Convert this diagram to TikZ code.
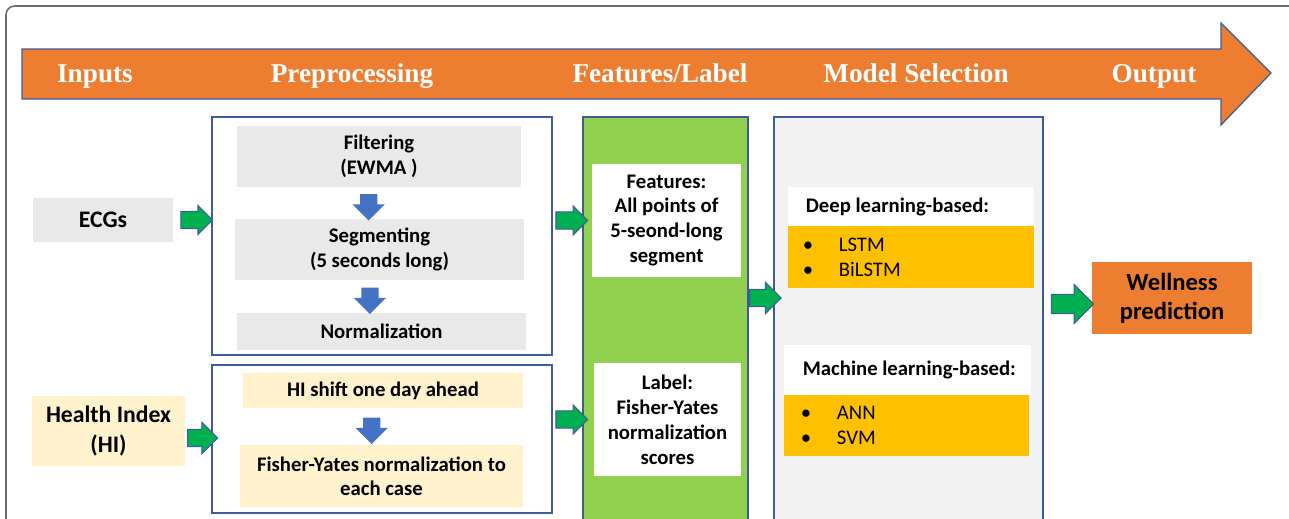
\documentclass[tikz,border=0pt]{standalone}
\usepackage{fontspec}
\setmainfont{Carlito}
\newfontfamily\headfont{Liberation Serif}
\usetikzlibrary{calc,fit,positioning,shapes.arrows}
\definecolor{bannerorange}{HTML}{ED7D31}
\definecolor{edgeblue}{HTML}{3E5C9A}
\definecolor{stepgrey}{HTML}{E9E9E9}
\definecolor{modelgrey}{HTML}{F2F2F2}
\definecolor{hiyellow}{HTML}{FFF2CC}
\definecolor{featgreen}{HTML}{92D050}
\definecolor{gold}{HTML}{FFC000}
\definecolor{arrowgreen}{HTML}{00B050}
\definecolor{arrowblue}{HTML}{4472C4}

\begin{document}
\begin{tikzpicture}[x=0.02cm, y=-0.02cm, font=\fontsize{11.8}{14.2}\selectfont\bfseries,
  panel/.style={draw=edgeblue, line width=0.8pt, inner sep=0pt},
  stepbox/.style={fill=stepgrey, inner sep=0pt},
  hibox/.style={fill=hiyellow, inner sep=0pt},
  whitebox/.style={fill=white, inner sep=0pt},
  goldbox/.style={fill=gold, inner sep=0pt},
  txt/.style={align=center, inner sep=0pt},
  intxt/.style={txt, font=\fontsize{13.5}{17}\selectfont\bfseries},
  headtxt/.style={anchor=base, text=white, font=\headfont\fontsize{15.5}{18}\selectfont\bfseries},
  items/.style={anchor=west, align=left, font=\fontsize{11.8}{14.2}\selectfont\mdseries},
  greenarrow/.style={single arrow, draw=edgeblue, fill=arrowgreen, line width=0.6pt,
    inner sep=4.6pt, single arrow head extend=3.4pt, minimum height=18pt},
  bluearrow/.style={single arrow, fill=arrowblue, shape border rotate=270,
    inner sep=4.7pt, single arrow head extend=4.3pt, minimum height=15pt, xshift=-6pt}]
\useasboundingbox (0,0) rectangle (1289,518);
\draw[gray!85!black, line width=0.9pt, rounded corners=5pt] (6,530) |- (1289,6);

% banner
\draw[fill=bannerorange, draw=edgeblue, line width=0.7pt]
  (22,49) -- (1221,49) -- (1221,23) -- (1271,73) -- (1221,125) -- (1221,99) -- (22,99) -- cycle;
\foreach \x/\t [count=\i] in {95/Inputs, 352/Preprocessing, 660/{Features/Label}, 916/Model Selection, 1154/Output}
  \node[headtxt] (hd\i) at (\x,82) {\t};

% inputs
\node[stepbox, fit={(33,198) (173,242)}] (ecg) {};
\node[hibox, fit={(32,396) (185,466)}] (hi) {};
\node[intxt] (ecg-t) at (ecg) {ECGs};
\node[intxt] (hi-t) at (hi) {Health Index\\(HI)};

% preprocessing
\node[panel, fit={(212,117) (552,355)}] (pretop) {};
\node[panel, fit={(212,365) (552,513)}] (prebot) {};
\node[stepbox, fit={(237,126) (521,187)}] (filt) {};
\node[stepbox, fit={(235,219) (524,280)}] (seg) {};
\node[stepbox, fit={(237,313) (526,350)}] (norm) {};
\node[hibox, fit={(243,373) (523,408)}] (shift) {};
\node[hibox, fit={(240,445) (523,507)}] (fy) {};
\node[txt] (filt-t) at (filt) {Filtering\\(EWMA )};
\node[txt] (seg-t) at (seg) {Segmenting\\(5 seconds long)};
\node[txt] (norm-t) at (norm) {Normalization};
\node[txt] (shift-t) at (shift) {HI shift one day ahead};
\node[txt, font=\fontsize{11.8}{13.5}\selectfont\bfseries] (fy-t) at (fy) {Fisher-Yates normalization to\\each case};
\foreach \a/\b [count=\i] in {filt/seg, seg/norm, shift/fy}
  \node[bluearrow] (down\i) at ($(\a.south)!.5!(\b.north)$) {};

% features / label
\node[panel, fill=featgreen, fit={(583,117) (748,522)}] (col) {};
\node[whitebox, fit={(592,164) (741,277)}] (feat) {};
\node[whitebox, fit={(594,363) (741,476)}] (lab) {};
\node[txt] (feat-t) at (feat) {Features:\\All points of\\5-seond-long\\segment};
\node[txt] (lab-t) at (lab) {Label:\\Fisher-Yates\\normalization\\scores};

% model selection
\node[panel, fill=modelgrey, fit={(774,117) (1043,522)}] (model) {};
\node[whitebox, fit={(788,187) (1034,226)}] (dl) {};
\node[goldbox, fit={(788,226) (1034,288)}] (dlm) {};
\node[whitebox, fit={(784,345) (1031,395)}] (ml) {};
\node[goldbox, fit={(784,395) (1029,456)}] (mlm) {};
\node[anchor=west] (dltxt) at ($(dl.west)+(12,0)$) {Deep learning-based:};
\node[anchor=west] (mltxt) at ($(ml.west)+(13,0)$) {Machine learning-based:};
\node[items] (dlit) at ($(dlm.west)+(9,0)$) {\makebox[20.5pt][l]{\textbullet}LSTM\\\makebox[20.5pt][l]{\textbullet}BiLSTM};
\node[items] (mlit) at ($(mlm.west)+(11,0)$) {\makebox[20.5pt][l]{\textbullet}ANN\\\makebox[20.5pt][l]{\textbullet}SVM};

% output
\node[fill=bannerorange, inner sep=0pt, fit={(1092,262) (1252,334)}] (well) {};
\node[txt, font=\fontsize{14}{16.4}\selectfont\bfseries] (well-t) at (well) {Wellness\\prediction};

% green arrows
\node[greenarrow] (g1) at ($(ecg.east)!.5!(pretop.west |- ecg.east)$) {};
\node[greenarrow, minimum height=17pt, single arrow head extend=4pt] (g2) at ($(hi.east)!.5!(prebot.west |- hi.east)+(0,7)$) {};
\node[greenarrow] (g3) at ($(pretop.east |- feat)!.5!(col.west |- feat)$) {};
\node[greenarrow] (g4) at ($(prebot.east |- lab)!.5!(col.west |- lab)$) {};
\node[greenarrow, single arrow head extend=4pt] (g5) at ($(col.east |- well)!.5!(model.west |- well)$) {};
\node[greenarrow, minimum height=24pt, inner sep=5.1pt, single arrow head extend=5.6pt] (g6) at ($(model.east |- well)!.5!(well.west)+(0,6)$) {};
\end{tikzpicture}
\end{document}
